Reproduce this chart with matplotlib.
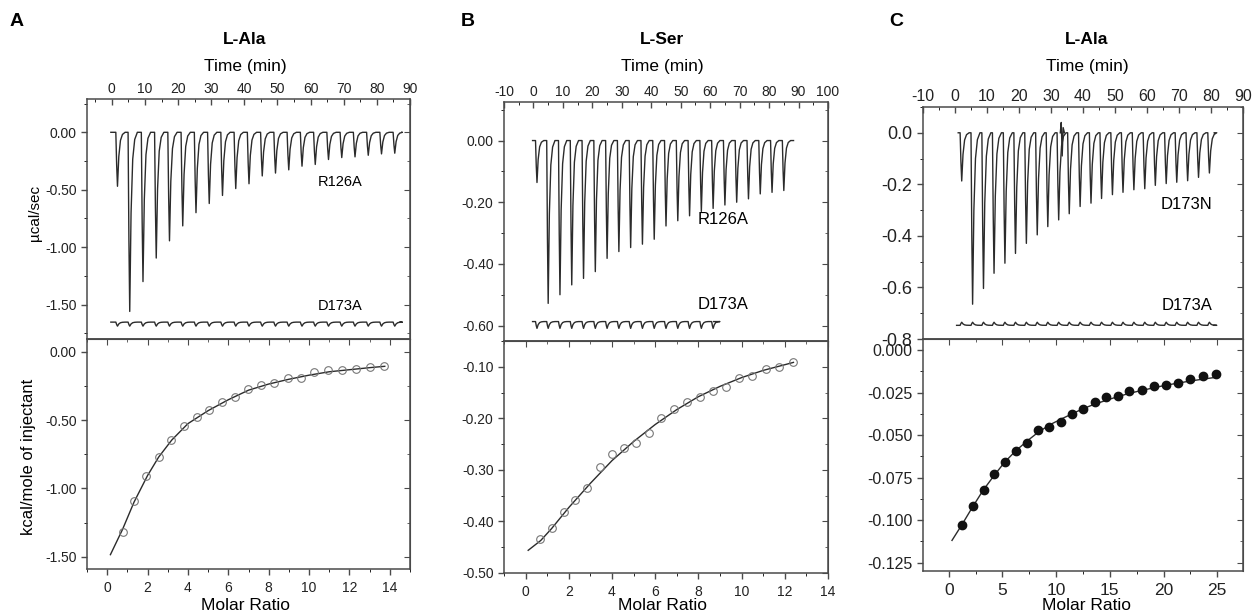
import numpy as np
import matplotlib.pyplot as plt
from matplotlib.ticker import MultipleLocator, FormatStrFormatter

plt.rcParams['font.family'] = ['Liberation Sans', 'DejaVu Sans']
plt.rcParams['axes.unicode_minus'] = False

# ---- panel A : L-Ala, R126A / D173A ----
a_first_t, a_first_p = 1.2, -0.47
a_times = [4.9, 8.9, 12.9, 16.9, 20.9, 24.9, 28.9, 32.9, 36.9, 40.9, 44.9,
           48.9, 52.9, 56.9, 60.9, 64.9, 68.9, 72.9, 76.9, 80.9, 84.9]
a_peaks = [-1.56, -1.30, -1.095, -0.945, -0.815, -0.70, -0.62, -0.55, -0.49, -0.448, -0.38,
           -0.355, -0.327, -0.295, -0.28, -0.237, -0.22, -0.214, -0.20, -0.188, -0.182]
a_ctrl_level, a_ctrl_dip = -1.653, -0.035
a_ratio = [0.76, 1.33, 1.94, 2.55, 3.18, 3.79, 4.43, 5.06, 5.68, 6.33, 6.97,
           7.63, 8.27, 8.95, 9.59, 10.26, 10.96, 11.65, 12.34, 13.01, 13.72]
a_heat = [-1.317, -1.090, -0.910, -0.768, -0.646, -0.541, -0.476, -0.422, -0.368, -0.329, -0.271,
          -0.241, -0.224, -0.193, -0.193, -0.144, -0.134, -0.129, -0.122, -0.112, -0.102]
a_fit_x = [0.16, 0.76, 1.33, 2.0, 2.55, 3.2, 4.0, 5.0, 6.0, 7.0, 8.0, 9.0, 10.0, 11.0, 12.0, 13.0, 13.75]
a_fit_y = [-1.485, -1.30, -1.10, -0.905, -0.77, -0.645, -0.525, -0.43, -0.35, -0.28, -0.235,
           -0.20, -0.17, -0.145, -0.13, -0.115, -0.105]

# ---- panel B : L-Ser, R126A / D173A ----
b_first_t, b_first_p = 0.7, -0.136
b_times = [4.5, 8.5, 12.5, 16.5, 20.5, 24.5, 28.5, 32.5, 36.5, 40.5, 44.5,
           48.5, 52.5, 56.5, 60.5, 64.5, 68.5, 72.5, 76.5, 80.5, 84.5]
b_peaks = [-0.528, -0.50, -0.468, -0.447, -0.425, -0.382, -0.36, -0.347, -0.336, -0.32, -0.277,
           -0.26, -0.244, -0.23, -0.22, -0.209, -0.20, -0.189, -0.173, -0.168, -0.162]
b_ctrl_level, b_ctrl_dip = -0.587, -0.022
b_ratio = [0.68, 1.22, 1.76, 2.30, 2.85, 3.43, 3.98, 4.55, 5.12, 5.69, 6.28,
           6.87, 7.45, 8.06, 8.66, 9.26, 9.88, 10.49, 11.11, 11.73, 12.38]
b_heat = [-0.4345, -0.4125, -0.382, -0.359, -0.336, -0.294, -0.269, -0.258, -0.247, -0.228, -0.199,
          -0.182, -0.168, -0.158, -0.147, -0.140, -0.122, -0.117, -0.105, -0.100, -0.0916]
b_fit_x = [0.12, 0.7, 1.2, 2.0, 3.0, 4.0, 5.0, 6.0, 7.0, 8.0, 9.0, 10.0, 11.0, 12.0, 12.4]
b_fit_y = [-0.456, -0.437, -0.414, -0.373, -0.326, -0.282, -0.245, -0.212, -0.183, -0.158,
           -0.138, -0.121, -0.107, -0.096, -0.0915]

# ---- panel C : L-Ala, D173N / D173A ----
c_first_t, c_first_p = 1.6, -0.187
c_times = [5.0, 8.4, 11.7, 15.1, 18.4, 21.8, 25.2, 28.5, 31.9, 35.2, 38.6, 42.0,
           45.3, 48.7, 52.0, 55.4, 58.8, 62.1, 65.5, 68.8, 72.2, 75.6, 79.0]
c_peaks = [-0.665, -0.604, -0.545, -0.506, -0.468, -0.429, -0.396, -0.364, -0.338, -0.314, -0.286,
           -0.273, -0.255, -0.240, -0.231, -0.221, -0.217, -0.204, -0.197, -0.192, -0.186, -0.173, -0.156]
c_glitch_t = [32.9, 33.2, 33.5, 33.8, 34.2]
c_glitch_y = [0.0, 0.04, -0.09, 0.02, 0.0]
c_ctrl_level, c_ctrl_dip = -0.747, 0.012
c_ratio = [1.25, 2.24, 3.24, 4.21, 5.21, 6.23, 7.26, 8.32, 9.35, 10.41, 11.47, 12.53,
           13.59, 14.65, 15.74, 16.83, 17.96, 19.08, 20.23, 21.35, 22.51, 23.69, 24.84]
c_heat = [-0.103, -0.092, -0.0826, -0.0728, -0.0657, -0.0593, -0.0544, -0.0473, -0.0455, -0.0424,
          -0.0379, -0.0345, -0.0304, -0.0277, -0.0269, -0.0243, -0.0235, -0.0212, -0.0204, -0.0194,
          -0.0173, -0.0155, -0.0139]
c_fit_x = [0.3, 1.25, 2.2, 3.2, 4.2, 5.2, 6.2, 7.3, 8.3, 9.4, 10.5, 11.5, 12.5, 13.6, 14.7, 15.7,
           16.8, 18.0, 19.1, 20.2, 21.4, 22.5, 23.7, 24.8]
c_fit_y = [-0.112, -0.1025, -0.0925, -0.0825, -0.074, -0.066, -0.0595, -0.0535, -0.0485, -0.044,
           -0.0405, -0.0375, -0.0345, -0.0318, -0.0295, -0.0275, -0.0255, -0.0237, -0.0222,
           -0.0207, -0.0194, -0.0182, -0.0171, -0.0161]

LINE = '#2b2b2b'
FRAME = '#4a4a4a'
# shape of one injection peak (time offset, fraction of peak depth)
SHAPE_DT = [0.0, 0.25, 0.5, 0.9, 1.4, 2.0, 2.8]
SHAPE_F = [0.0, 0.6, 1.0, 0.45, 0.15, 0.04, 0.0]


def trace(times, peaks, t0, t1, base=0.0):
    xs, ys = [t0], [base]
    for t, p in zip(times, peaks):
        for dt, f in zip(SHAPE_DT, SHAPE_F):
            xs.append(t + dt)
            ys.append(base + f * p)
    xs.append(t1)
    ys.append(base)
    return xs, ys


def style(ax, fs):
    for s in ax.spines.values():
        s.set_color(FRAME)
        s.set_linewidth(1.1)
    ax.tick_params(colors=FRAME, labelcolor='#222222', labelsize=fs, width=1.0)
    ax.tick_params(which='major', length=4.5)
    ax.tick_params(which='minor', length=2.5)


def setup_top(ax, xlim, ylim, ymaj, ymin, yfmt, fs, xfs):
    ax.set_xlim(*xlim)
    ax.set_ylim(*ylim)
    ax.xaxis.set_major_locator(MultipleLocator(10))
    ax.xaxis.set_minor_locator(MultipleLocator(5))
    ax.xaxis.tick_top()
    ax.tick_params(axis='x', which='both', direction='in', top=True, bottom=False, pad=2)
    ax.yaxis.set_major_locator(MultipleLocator(ymaj))
    ax.yaxis.set_minor_locator(MultipleLocator(ymin))
    ax.yaxis.set_major_formatter(FormatStrFormatter(yfmt))
    ax.tick_params(axis='y', which='both', direction='out', left=True, right=False, pad=3)
    style(ax, fs)
    ax.tick_params(axis='x', labelsize=xfs)
    sec = ax.secondary_yaxis('right')
    sec.yaxis.set_major_locator(MultipleLocator(ymaj))
    sec.yaxis.set_minor_locator(MultipleLocator(ymin))
    sec.tick_params(which='both', direction='in', labelright=False, colors=FRAME)
    sec.tick_params(which='major', length=4.5)
    sec.tick_params(which='minor', length=2.5)
    sec.spines['right'].set_color(FRAME)


def setup_bot(ax, xlim, ylim, xmaj, xmin, ymaj, ymin, yfmt, fs, xfs):
    ax.set_xlim(*xlim)
    ax.set_ylim(*ylim)
    ax.xaxis.set_major_locator(MultipleLocator(xmaj))
    ax.xaxis.set_minor_locator(MultipleLocator(xmin))
    ax.yaxis.set_major_locator(MultipleLocator(ymaj))
    ax.yaxis.set_minor_locator(MultipleLocator(ymin))
    ax.yaxis.set_major_formatter(FormatStrFormatter(yfmt))
    ax.tick_params(axis='both', which='both', direction='out', top=False, right=False)
    ax.tick_params(axis='x', pad=4)
    ax.tick_params(axis='y', pad=3)
    style(ax, fs)
    ax.tick_params(axis='x', labelsize=xfs)
    for loc, ax2 in (('top', ax.secondary_xaxis('top')), ('right', ax.secondary_yaxis('right'))):
        a2 = ax2.xaxis if loc == 'top' else ax2.yaxis
        a2.set_major_locator(MultipleLocator(xmaj if loc == 'top' else ymaj))
        a2.set_minor_locator(MultipleLocator(xmin if loc == 'top' else ymin))
        ax2.tick_params(which='both', direction='in', labeltop=False, labelright=False, colors=FRAME)
        ax2.tick_params(which='major', length=4.5)
        ax2.tick_params(which='minor', length=2.5)
        ax2.spines[loc].set_color(FRAME)


fig = plt.figure(figsize=(12.56, 6.16), dpi=100)
W, H = 1256.0, 616.0


def px_axes(l, r, t, b):
    return fig.add_axes([l / W, 1 - b / H, (r - l) / W, (b - t) / H])


# ---------- A ----------
axA = px_axes(87, 410, 99, 339)
axA2 = px_axes(87, 410, 339, 569)
x, y = trace([a_first_t] + a_times, [a_first_p] + a_peaks, -0.3, 87.5)
axA.plot(x, y, color=LINE, lw=1.0)
x, y = trace([a_first_t] + a_times, [a_ctrl_dip] * (len(a_times) + 1), -0.3, 87.0, a_ctrl_level)
axA.plot(x, y, color=LINE, lw=1.0)
axA.text(69, -0.43, 'R126A', fontsize=10.5, ha='center', va='center')
axA.text(69, -1.51, 'D173A', fontsize=10.5, ha='center', va='center')
setup_top(axA, (-7.5, 90), (-1.80, 0.29), 0.5, 0.25, '%.2f', 10, 10)

axA2.plot(a_fit_x, a_fit_y, color=LINE, lw=1.0)
axA2.plot(a_ratio, a_heat, 'o', ms=5.5, mfc='none', mec='#777777', mew=0.8)
setup_bot(axA2, (-1, 15), (-1.59, 0.095), 2, 1, 0.5, 0.25, '%.2f', 10, 10)

# ---------- B ----------
axB = px_axes(504, 828, 102, 341)
axB2 = px_axes(504, 828, 341, 573)
x, y = trace([b_first_t] + b_times, [b_first_p] + b_peaks, -0.3, 88.3)
axB.plot(x, y, color=LINE, lw=1.0)
x, y = trace([b_first_t] + b_times[:15], [b_ctrl_dip] * 16, -0.3, 61.2, b_ctrl_level)
axB.plot(x, y, color=LINE, lw=1.0)
axB.text(64.5, -0.256, 'R126A', fontsize=12, ha='center', va='center')
axB.text(64.5, -0.532, 'D173A', fontsize=12, ha='center', va='center')
setup_top(axB, (-10, 100), (-0.65, 0.125), 0.2, 0.1, '%.2f', 10, 10)

axB2.plot(b_fit_x, b_fit_y, color=LINE, lw=1.0)
axB2.plot(b_ratio, b_heat, 'o', ms=5.5, mfc='none', mec='#777777', mew=0.8)
setup_bot(axB2, (-1, 14), (-0.50, -0.05), 2, 1, 0.1, 0.05, '%.2f', 10, 10)

# ---------- C ----------
axC = px_axes(923, 1243, 107, 339)
axC2 = px_axes(923, 1243, 339, 571)
x, y = trace([c_first_t] + c_times, [c_first_p] + c_peaks, 1.0, 81.0)
axC.plot(x, y, color=LINE, lw=1.0)
axC.plot(c_glitch_t, c_glitch_y, color=LINE, lw=1.0)
x, y = trace([c_first_t] + c_times, [c_ctrl_dip] * (len(c_times) + 1), 0.5, 81.0, c_ctrl_level)
axC.plot(x, y, color=LINE, lw=1.0)
axC.text(72.5, -0.28, 'D173N', fontsize=12, ha='center', va='center')
axC.text(72.5, -0.67, 'D173A', fontsize=12, ha='center', va='center')
setup_top(axC, (-10, 90), (-0.8, 0.10), 0.2, 0.1, '%.1f', 13, 11.5)

axC2.plot(c_fit_x, c_fit_y, color=LINE, lw=1.0)
axC2.plot(c_ratio, c_heat, 'o', ms=6, color='#111111')
setup_bot(axC2, (-2.4, 27.4), (-0.130, 0.0065), 5, 2.5, 0.025, 0.0125, '%.3f', 11.5, 12.5)

# ---------- titles and labels ----------
for cx, letter, lx, title in ((245, 'A', 17, 'L-Ala'), (662, 'B', 468, 'L-Ser'), (1087, 'C', 896, 'L-Ala')):
    fig.text(lx / W, 1 - 22 / H, letter, fontsize=14, fontweight='bold', ha='center', va='center')
    fig.text(cx / W, 1 - 39 / H, title, fontsize=12.5, fontweight='bold', ha='center', va='center')
    fig.text(cx / W, 1 - 66 / H, 'Time (min)', fontsize=12.5, ha='center', va='center')
    fig.text(cx / W, 1 - 605 / H, 'Molar Ratio', fontsize=12.5, ha='center', va='center')

fig.text(35 / W, 1 - 213 / H, 'µcal/sec', fontsize=11, rotation=90, ha='center', va='center')
fig.text(29 / W, 1 - 457 / H, 'kcal/mole of injectant', fontsize=12, rotation=90, ha='center', va='center')

fig.savefig('out.png', dpi=100, facecolor='white')
